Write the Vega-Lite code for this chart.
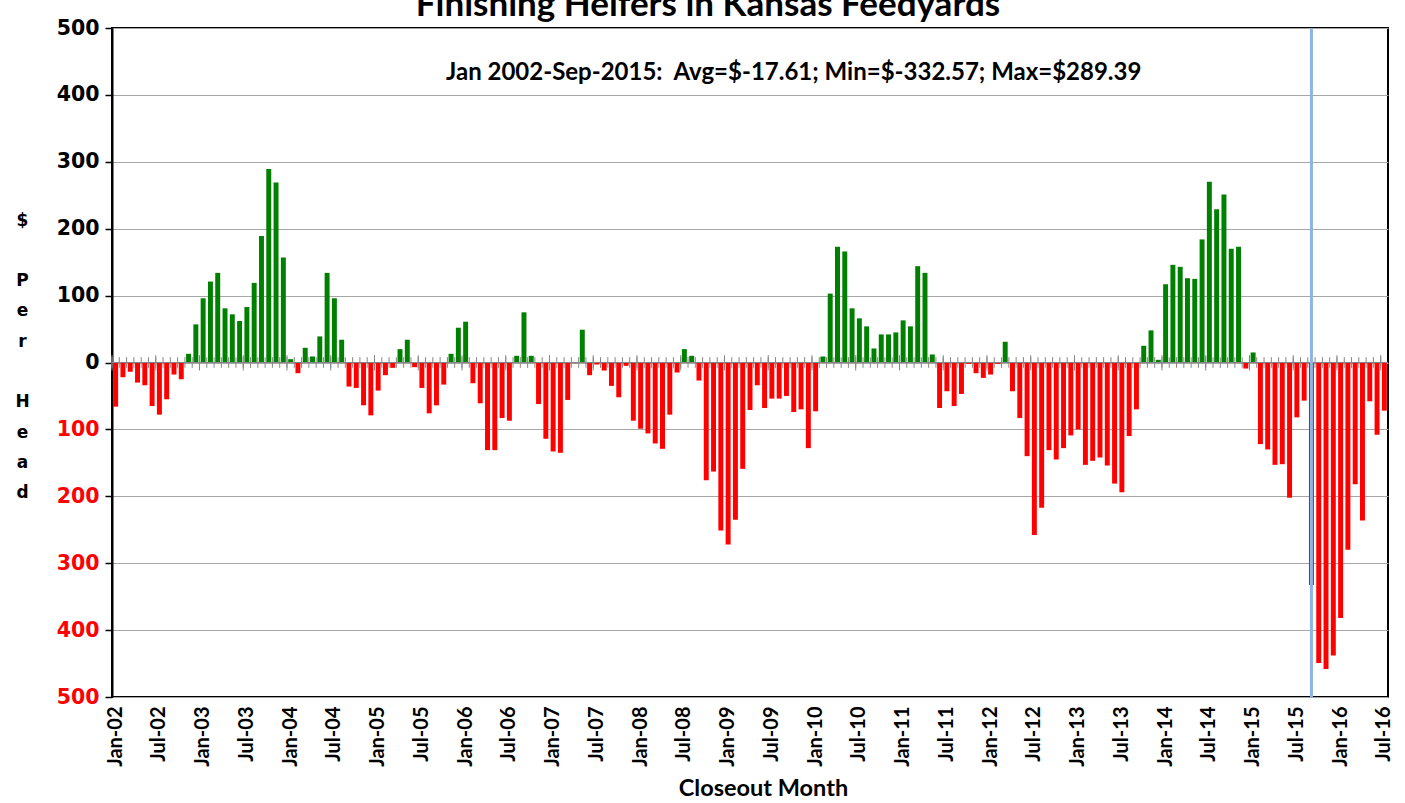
{
  "$schema": "https://vega.github.io/schema/vega-lite/v6.json",
  "autosize": {"type": "none"},
  "padding": {"left": 112, "top": 28, "right": 17, "bottom": 106},
  "width": 1276,
  "height": 669,
  "background": "white",
  "config": {
    "view": {"stroke": "#000000", "strokeWidth": 2}
  },
  "title": {
    "text": "Finishing Heifers in Kansas Feedyards",
    "font": "Lato",
    "fontSize": 35,
    "fontWeight": "bold",
    "color": "#000000",
    "anchor": "middle",
    "frame": "group",
    "dx": -42,
    "dy": 33,
    "baseline": "alphabetic",
    "offset": 0
  },
  "data": {
    "values": [
      {"m": "Jan-02", "v": -66}, {"m": "Feb-02", "v": -22}, {"m": "Mar-02", "v": -14}, {"m": "Apr-02", "v": -30}, {"m": "May-02", "v": -34}, {"m": "Jun-02", "v": -65}, {"m": "Jul-02", "v": -78}, {"m": "Aug-02", "v": -55}, {"m": "Sep-02", "v": -18}, {"m": "Oct-02", "v": -25}, {"m": "Nov-02", "v": 13}, {"m": "Dec-02", "v": 57},
      {"m": "Jan-03", "v": 96}, {"m": "Feb-03", "v": 121}, {"m": "Mar-03", "v": 134}, {"m": "Apr-03", "v": 81}, {"m": "May-03", "v": 72}, {"m": "Jun-03", "v": 62}, {"m": "Jul-03", "v": 83}, {"m": "Aug-03", "v": 119}, {"m": "Sep-03", "v": 189}, {"m": "Oct-03", "v": 289.39}, {"m": "Nov-03", "v": 269}, {"m": "Dec-03", "v": 157},
      {"m": "Jan-04", "v": 5}, {"m": "Feb-04", "v": -16}, {"m": "Mar-04", "v": 22}, {"m": "Apr-04", "v": 9}, {"m": "May-04", "v": 39}, {"m": "Jun-04", "v": 134}, {"m": "Jul-04", "v": 96}, {"m": "Aug-04", "v": 34}, {"m": "Sep-04", "v": -36}, {"m": "Oct-04", "v": -38}, {"m": "Nov-04", "v": -64}, {"m": "Dec-04", "v": -79},
      {"m": "Jan-05", "v": -42}, {"m": "Feb-05", "v": -19}, {"m": "Mar-05", "v": -8}, {"m": "Apr-05", "v": 20}, {"m": "May-05", "v": 34}, {"m": "Jun-05", "v": -7}, {"m": "Jul-05", "v": -38}, {"m": "Aug-05", "v": -76}, {"m": "Sep-05", "v": -64}, {"m": "Oct-05", "v": -33}, {"m": "Nov-05", "v": 13}, {"m": "Dec-05", "v": 52},
      {"m": "Jan-06", "v": 61}, {"m": "Feb-06", "v": -31}, {"m": "Mar-06", "v": -61}, {"m": "Apr-06", "v": -131}, {"m": "May-06", "v": -131}, {"m": "Jun-06", "v": -83}, {"m": "Jul-06", "v": -87}, {"m": "Aug-06", "v": 10}, {"m": "Sep-06", "v": 75}, {"m": "Oct-06", "v": 10}, {"m": "Nov-06", "v": -62}, {"m": "Dec-06", "v": -114},
      {"m": "Jan-07", "v": -133}, {"m": "Feb-07", "v": -135}, {"m": "Mar-07", "v": -56}, {"m": "Apr-07", "v": -1}, {"m": "May-07", "v": 49}, {"m": "Jun-07", "v": -19}, {"m": "Jul-07", "v": -3}, {"m": "Aug-07", "v": -12}, {"m": "Sep-07", "v": -35}, {"m": "Oct-07", "v": -52}, {"m": "Nov-07", "v": -5}, {"m": "Dec-07", "v": -87},
      {"m": "Jan-08", "v": -99}, {"m": "Feb-08", "v": -106}, {"m": "Mar-08", "v": -121}, {"m": "Apr-08", "v": -129}, {"m": "May-08", "v": -78}, {"m": "Jun-08", "v": -15}, {"m": "Jul-08", "v": 20}, {"m": "Aug-08", "v": 10}, {"m": "Sep-08", "v": -27}, {"m": "Oct-08", "v": -176}, {"m": "Nov-08", "v": -163}, {"m": "Dec-08", "v": -251},
      {"m": "Jan-09", "v": -272}, {"m": "Feb-09", "v": -235}, {"m": "Mar-09", "v": -159}, {"m": "Apr-09", "v": -71}, {"m": "May-09", "v": -34}, {"m": "Jun-09", "v": -68}, {"m": "Jul-09", "v": -54}, {"m": "Aug-09", "v": -54}, {"m": "Sep-09", "v": -50}, {"m": "Oct-09", "v": -74}, {"m": "Nov-09", "v": -70}, {"m": "Dec-09", "v": -128},
      {"m": "Jan-10", "v": -73}, {"m": "Feb-10", "v": 9}, {"m": "Mar-10", "v": 103}, {"m": "Apr-10", "v": 173}, {"m": "May-10", "v": 166}, {"m": "Jun-10", "v": 81}, {"m": "Jul-10", "v": 66}, {"m": "Aug-10", "v": 54}, {"m": "Sep-10", "v": 21}, {"m": "Oct-10", "v": 42}, {"m": "Nov-10", "v": 42}, {"m": "Dec-10", "v": 45},
      {"m": "Jan-11", "v": 63}, {"m": "Feb-11", "v": 54}, {"m": "Mar-11", "v": 144}, {"m": "Apr-11", "v": 134}, {"m": "May-11", "v": 12}, {"m": "Jun-11", "v": -68}, {"m": "Jul-11", "v": -43}, {"m": "Aug-11", "v": -65}, {"m": "Sep-11", "v": -47}, {"m": "Oct-11", "v": -2}, {"m": "Nov-11", "v": -16}, {"m": "Dec-11", "v": -23},
      {"m": "Jan-12", "v": -18}, {"m": "Feb-12", "v": -2}, {"m": "Mar-12", "v": 31}, {"m": "Apr-12", "v": -43}, {"m": "May-12", "v": -83}, {"m": "Jun-12", "v": -140}, {"m": "Jul-12", "v": -258}, {"m": "Aug-12", "v": -217}, {"m": "Sep-12", "v": -131}, {"m": "Oct-12", "v": -145}, {"m": "Nov-12", "v": -128}, {"m": "Dec-12", "v": -109},
      {"m": "Jan-13", "v": -100}, {"m": "Feb-13", "v": -153}, {"m": "Mar-13", "v": -147}, {"m": "Apr-13", "v": -142}, {"m": "May-13", "v": -154}, {"m": "Jun-13", "v": -181}, {"m": "Jul-13", "v": -194}, {"m": "Aug-13", "v": -110}, {"m": "Sep-13", "v": -70}, {"m": "Oct-13", "v": 25}, {"m": "Nov-13", "v": 48}, {"m": "Dec-13", "v": 4},
      {"m": "Jan-14", "v": 117}, {"m": "Feb-14", "v": 146}, {"m": "Mar-14", "v": 143}, {"m": "Apr-14", "v": 126}, {"m": "May-14", "v": 125}, {"m": "Jun-14", "v": 184}, {"m": "Jul-14", "v": 270}, {"m": "Aug-14", "v": 229}, {"m": "Sep-14", "v": 251}, {"m": "Oct-14", "v": 170}, {"m": "Nov-14", "v": 173}, {"m": "Dec-14", "v": -9},
      {"m": "Jan-15", "v": 15}, {"m": "Feb-15", "v": -122}, {"m": "Mar-15", "v": -130}, {"m": "Apr-15", "v": -153}, {"m": "May-15", "v": -152}, {"m": "Jun-15", "v": -202}, {"m": "Jul-15", "v": -82}, {"m": "Aug-15", "v": -57}, {"m": "Sep-15", "v": -332.57}, {"m": "Oct-15", "v": -449}, {"m": "Nov-15", "v": -458}, {"m": "Dec-15", "v": -438},
      {"m": "Jan-16", "v": -382}, {"m": "Feb-16", "v": -280}, {"m": "Mar-16", "v": -182}, {"m": "Apr-16", "v": -236}, {"m": "May-16", "v": -58}, {"m": "Jun-16", "v": -108}, {"m": "Jul-16", "v": -72}
    ]
  },
  "layer": [
    {
      "mark": {"type": "bar", "stroke": null},
      "encoding": {
        "x": {
          "field": "m",
          "type": "ordinal",
          "sort": null,
          "scale": {"paddingInner": 0.32, "paddingOuter": 0.16},
          "axis": {
            "title": "Closeout Month",
            "titleFont": "Lato",
            "titleFontSize": 23.5,
            "titleFontWeight": "bold",
            "titleColor": "#000000",
            "titleX": 651,
            "titleY": 91,
            "titleAlign": "center",
            "titleBaseline": "middle",
            "labelFont": "Lato",
            "labelFontSize": 20,
            "labelFontWeight": "bold",
            "labelColor": "#000000",
            "labelAngle": -90,
            "labelAlign": "right",
            "labelBaseline": "middle",
            "labelPadding": 9,
            "labelOverlap": false,
            "labelExpr": "indexof(datum.value, 'Jan') == 0 || indexof(datum.value, 'Jul') == 0 ? datum.value : ''",
            "ticks": false,
            "domain": false,
            "grid": false
          }
        },
        "y": {
          "field": "v",
          "type": "quantitative",
          "scale": {"domain": [-500, 500], "nice": false},
          "axis": {
            "values": [-500, -400, -300, -200, -100, 0, 100, 200, 300, 400, 500],
            "labelExpr": "abs(datum.value)",
            "labelFont": "DejaVu Sans",
            "labelFontSize": 20.5,
            "labelFontWeight": "bold",
            "labelColor": {"condition": {"test": "datum.value < 0", "value": "#ff0000"}, "value": "#000000"},
            "labelPadding": 6,
            "tickSize": 7,
            "tickColor": "#000000",
            "tickWidth": 1.5,
            "domainColor": "#000000",
            "domainWidth": 2,
            "gridColor": "#a6a6a6",
            "gridWidth": 1,
            "title": ["$", "\u200b", "P", "e", "r", "\u200b", "H", "e", "a", "d"],
            "titleFont": "DejaVu Sans",
            "titleFontSize": 17,
            "titleFontWeight": "bold",
            "titleColor": "#000000",
            "titleAngle": 0,
            "titleAlign": "center",
            "titleBaseline": "top",
            "titleLineHeight": 30.3,
            "titleX": -90,
            "titleY": 184
          }
        },
        "color": {
          "condition": {"test": "datum.v > 0", "value": "#008000"},
          "value": "#ff0000"
        }
      }
    },
    {
      "data": {"values": [{}]},
      "mark": {"type": "rule", "color": "#868686", "strokeWidth": 1.2},
      "encoding": {"y": {"datum": 0}}
    },
    {
      "mark": {"type": "rule", "color": "#868686", "strokeWidth": 1},
      "encoding": {
        "x": {"field": "m", "type": "ordinal", "sort": null, "bandPosition": -0.235},
        "y": {"datum": -8},
        "y2": {"datum": 8}
      }
    },
    {
      "transform": [{"filter": "indexof(datum.m, 'Jan') == 0 || indexof(datum.m, 'Jul') == 0"}],
      "mark": {"type": "rule", "color": "#868686", "strokeWidth": 1},
      "encoding": {
        "x": {"field": "m", "type": "ordinal", "sort": null, "bandPosition": -0.235},
        "y": {"datum": -12},
        "y2": {"datum": 11}
      }
    },
    {
      "transform": [{"filter": "datum.m == 'Sep-15'"}],
      "mark": {"type": "rule", "color": "#8db4e2", "strokeWidth": 3},
      "encoding": {
        "x": {"field": "m", "type": "ordinal", "sort": null}
      }
    },
    {
      "data": {"values": [{}]},
      "mark": {
        "type": "text",
        "text": "Jan 2002-Sep-2015:\u00a0 Avg=$-17.61; Min=$-332.57; Max=$289.39",
        "font": "Lato",
        "fontSize": 24,
        "fontWeight": "bold",
        "color": "#000000",
        "align": "center",
        "baseline": "middle"
      },
      "encoding": {
        "x": {"datum": "Oct-09", "type": "ordinal"},
        "y": {"datum": 432}
      }
    }
  ]
}
